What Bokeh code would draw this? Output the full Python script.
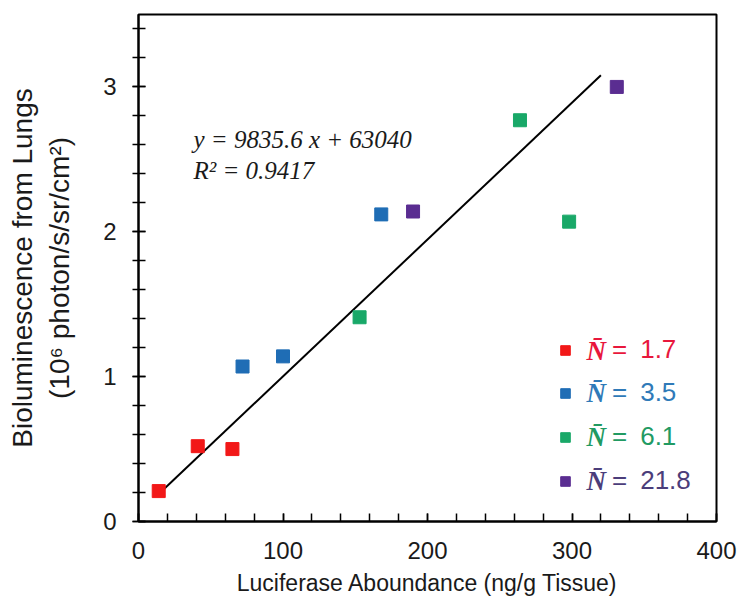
from bokeh.plotting import figure
from bokeh.models import Range1d, SingleIntervalTicker, Legend, LegendItem, Label
from bokeh.embed import file_html
from bokeh.resources import INLINE

# ---- data ----
groups = ["1.7", "3.5", "6.1", "21.8"]
x_n17 = [14, 41, 65]
y_n17 = [0.21, 0.52, 0.50]
x_n35 = [72, 100, 168]
y_n35 = [1.07, 1.14, 2.12]
x_n61 = [153, 264, 298]
y_n61 = [1.41, 2.77, 2.07]
x_n218 = [190, 331]
y_n218 = [2.14, 3.00]
fit_x = [14, 320]
fit_y = [0.19, 3.08]
equation = "y = 9835.6 x + 63040"
r2_text = "R\u00b2 = 0.9417"

point_colors = ["#f21818", "#1f6db5", "#19a868", "#5a2d91"]
text_colors = ["#e8173c", "#2f7ab8", "#219a62", "#4b3d7a"]

p = figure(width=742, height=608, output_backend="svg", toolbar_location=None,
           x_range=Range1d(0, 400), y_range=Range1d(0, 3.5),
           min_border_left=138, min_border_right=26, min_border_top=14, min_border_bottom=87)
p.frame_width = 578
p.frame_height = 507
p.background_fill_color = "white"
p.border_fill_color = "white"
p.outline_line_color = "black"
p.outline_line_width = 2
p.xgrid.visible = False
p.ygrid.visible = False

p.xaxis.ticker = SingleIntervalTicker(interval=100, num_minor_ticks=5)
p.yaxis.ticker = SingleIntervalTicker(interval=1, num_minor_ticks=5)

for ax in (p.xaxis[0], p.yaxis[0]):
    ax.axis_line_color = "black"
    ax.axis_line_width = 2
    ax.major_tick_line_color = "black"
    ax.minor_tick_line_color = "black"
    ax.major_tick_line_width = 1.5
    ax.minor_tick_line_width = 1.5
    ax.major_label_text_font = "Liberation Sans"
    ax.major_label_text_font_size = "24px"
    ax.major_label_text_color = "#1a1a1a"
    ax.axis_label_text_font = "Liberation Sans"
    ax.axis_label_text_font_style = "normal"
    ax.axis_label_text_color = "#1a1a1a"

p.xaxis.major_tick_in = 8
p.xaxis.major_tick_out = 0
p.xaxis.minor_tick_in = 8
p.xaxis.minor_tick_out = 0
p.xaxis.major_label_standoff = 20
p.xaxis.axis_label = "Luciferase Aboundance (ng/g Tissue)"
p.xaxis.axis_label_text_font_size = "23px"
p.xaxis.axis_label_standoff = 8

p.yaxis.major_tick_in = 7
p.yaxis.major_tick_out = 6
p.yaxis.minor_tick_in = 7
p.yaxis.minor_tick_out = 6
p.yaxis.major_label_standoff = 16
p.yaxis.major_label_orientation = "horizontal"
p.yaxis.axis_label = "Bioluminescence from Lungs\n(10\u2076 photon/s/sr/cm\u00b2)"
p.yaxis.axis_label_text_font_size = "28px"
p.yaxis.axis_label_standoff = 25

# fit line
p.line(fit_x, fit_y, line_color="black", line_width=2)

# data points
xs = [x_n17, x_n35, x_n61, x_n218]
ys = [y_n17, y_n35, y_n61, y_n218]
renderers = []
for xv, yv, c in zip(xs, ys, point_colors):
    r = p.scatter(xv, yv, marker="square", size=13, fill_color=c, line_color=c)
    renderers.append(r)

# legends (one per group so text color can differ)
row_tops = [156, 113, 69, 25]
for r, g, tc, vy in zip(renderers, groups, text_colors, row_tops):
    leg = Legend(items=[LegendItem(label="=\u2002" + g, renderers=[r])],
                 location=(415, vy), orientation="vertical",
                 glyph_width=24, glyph_height=26, label_standoff=35,
                 label_text_font="Liberation Sans", label_text_font_size="26px",
                 label_text_color=tc, padding=0, margin=0, spacing=0,
                 border_line_color=None, background_fill_alpha=0)
    p.add_layout(leg)

# N-bar symbols in legend
nbar_y = [1.18, 0.885, 0.58, 0.28]
for yv, tc in zip(nbar_y, text_colors):
    p.add_layout(Label(x=310, y=yv, text="N\u0304", text_font="Liberation Serif",
                       text_font_size="27px", text_font_style="bold italic",
                       text_color=tc, text_baseline="middle", text_align="left"))

# equation
p.add_layout(Label(x=38, y=2.64, text=equation, text_font="Liberation Serif",
                   text_font_size="25px", text_font_style="italic",
                   text_color="#1a1a1a", text_baseline="middle"))
p.add_layout(Label(x=38, y=2.42, text=r2_text, text_font="Liberation Serif",
                   text_font_size="25px", text_font_style="italic",
                   text_color="#1a1a1a", text_baseline="middle"))

open("out.html", "w").write(file_html(p, INLINE))
